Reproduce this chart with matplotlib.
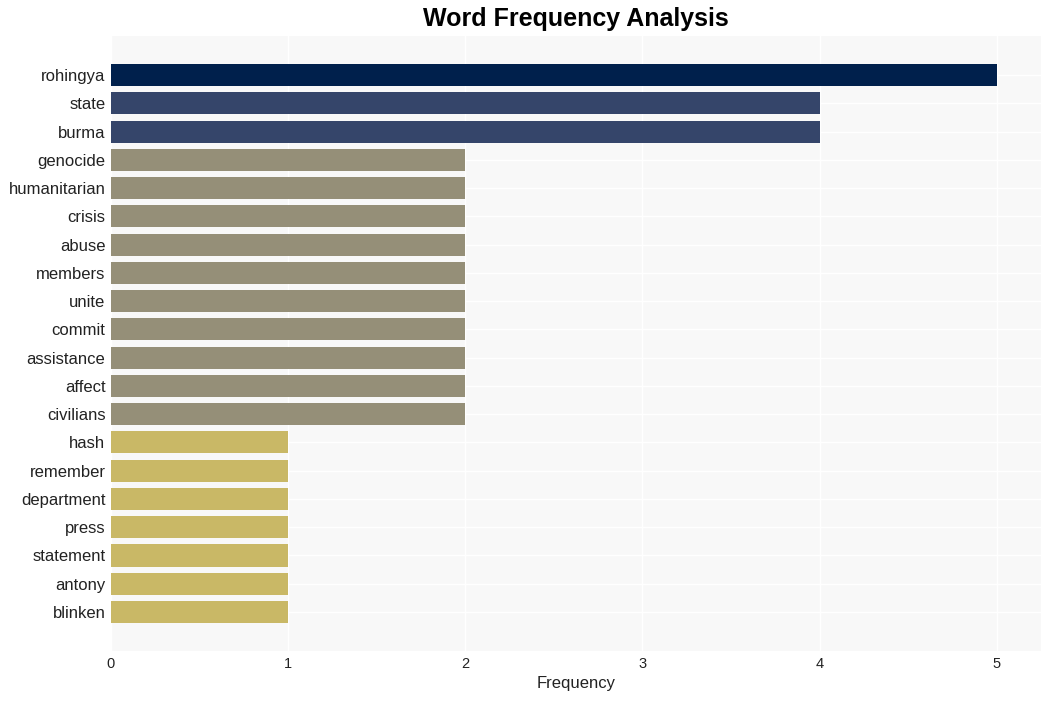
import matplotlib
matplotlib.use("Agg")
import matplotlib.pyplot as plt

words = ["rohingya", "state", "burma", "genocide", "humanitarian", "crisis", "abuse",
         "members", "unite", "commit", "assistance", "affect", "civilians", "hash",
         "remember", "department", "press", "statement", "antony", "blinken"]
freqs = [5, 4, 4, 2, 2, 2, 2, 2, 2, 2, 2, 2, 2, 1, 1, 1, 1, 1, 1, 1]
color_map = {5: "#00204c", 4: "#35456a", 2: "#958f78", 1: "#c9b866"}
xticks = [0, 1, 2, 3, 4, 5]

plt.rcParams['font.family'] = ['Liberation Sans', 'DejaVu Sans']

fig = plt.figure(figsize=(10.51, 7.01), dpi=100)
ax = fig.add_axes([0.1056, 0.0713, 0.885, 0.8773])
ax.set_facecolor("#f8f8f8")

ypos = list(range(len(words)))
ax.barh(ypos, freqs, height=0.78, color=[color_map[f] for f in freqs], zorder=3)

ax.set_xlim(0, 5.25)
ax.set_ylim(len(words) - 1 + 1.38, -1.38)
ax.set_yticks(ypos)
ax.set_yticklabels(words, fontsize=12, color="#222222")
ax.set_xticks(xticks)
ax.set_xticklabels([str(t) for t in xticks], fontsize=10.5, color="#222222")
ax.tick_params(axis='x', length=0, pad=4)
ax.tick_params(axis='y', length=0, pad=4)
ax.grid(True, color="white", linewidth=1, zorder=0)
for s in ax.spines.values():
    s.set_visible(False)

ax.set_xlabel("Frequency", fontsize=12, color="#222222", labelpad=4)
fig.text(576 / 1051, 1 - 19 / 701, "Word Frequency Analysis", fontsize=18,
         fontweight="bold", ha="center", va="center")

fig.savefig("out.png", dpi=100)
